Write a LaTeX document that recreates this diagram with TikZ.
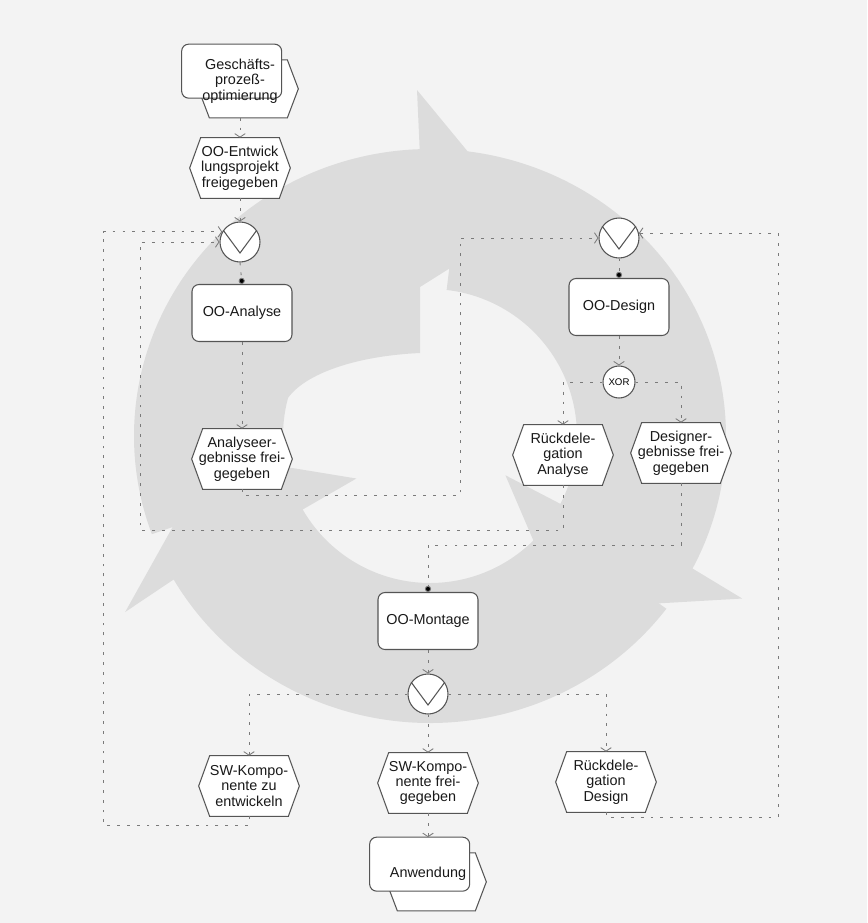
\documentclass[tikz,border=0pt]{standalone}
\usepackage{fontspec}
\setmainfont{Liberation Sans}
\usetikzlibrary{arrows.meta,calc}
\pgfdeclarelayer{paper}
\pgfdeclarelayer{ring}
\pgfdeclarelayer{shapes}
\pgfsetlayers{paper,ring,shapes,main}

\definecolor{paper}{HTML}{F3F3F3}
\definecolor{ringgray}{HTML}{DCDCDC}
\definecolor{edge}{HTML}{555555}
\definecolor{flow}{HTML}{7A7A7A}

\tikzset{
  lbl/.style={font=\fontsize{8.2}{8.7}\selectfont, align=center, inner sep=0pt, text=black!90},
  func/.style={lbl, draw=edge, line width=0.6pt, fill=white, rounded corners=4pt,
    minimum width=2cm, minimum height=1.14cm},
  evt/.style={lbl, minimum width=2cm, minimum height=1.2cm},
  pif/.style={lbl, minimum width=2.32cm, minimum height=1.46cm},
  orc/.style={circle, draw=edge, line width=0.6pt, fill=white, minimum size=0.8cm, inner sep=0pt},
  xorc/.style={circle, draw=edge, line width=0.6pt, fill=white, minimum size=0.64cm,
    inner sep=0pt, font=\fontsize{5.5}{6}\selectfont},
  outline/.style={draw=edge, line width=0.6pt, fill=white},
  conn/.style={draw=flow, line width=0.5pt, dash pattern=on 1.6pt off 4pt,
    -{Straight Barb[length=2pt,width=6pt,line width=0.5pt]}},
  dotin/.style={conn, -{Circle[length=3.5pt,fill=black]}},
  ringfill/.style={fill=ringgray}
}

\begin{document}
\begin{tikzpicture}[x=0.02cm,y=-0.02cm]
\useasboundingbox (0,0) rectangle (867,923);
\begin{pgfonlayer}{paper}
  \fill[paper] (0,0) rectangle (867,923);
\end{pgfonlayer}

% three curved arrows forming the cycle (local frame: y points up)
\begin{pgfonlayer}{ring}
\begin{scope}[shift={(430,436)}, yscale=-1]
  % left arrow, head at the top
  \fill[ringfill] (200:296 and 287)
    arc[start angle=200, end angle=92, x radius=296, y radius=287]
    -- (-13,346) -- (95,215) -- (-10,149) -- (-10,83)
    .. controls (-75,80) and (-125,62) .. (165:147)
    arc[start angle=165, end angle=200, radius=147] -- cycle;
  % right arrow, head at the lower right
  \fill[ringfill] (83.5:296 and 287)
    arc[start angle=83.5, end angle=-27.5, x radius=296, y radius=287]
    -- (-27.5:352) -- (-52.5:218) -- (-27.5:85) -- (-27.5:147)
    arc[start angle=-27.5, end angle=83.5, radius=147] -- cycle;
  % bottom arrow, head at the lower left
  \fill[ringfill] (-37:296 and 287)
    arc[start angle=-37, end angle=-150, x radius=296, y radius=287]
    -- (-150:352) -- (-175:218) -- (-150:85) -- (-150:147)
    arc[start angle=-150, end angle=-37, radius=147] -- cycle;
\end{scope}
\end{pgfonlayer}

% process interfaces
\node[pif] (gpo) at (240,81) {Geschäfts-\\prozeß-\\optimierung};
\node[pif] (anw) at (428,874) {Anwendung};

% events
\node[evt] (e1)   at (240,168) {OO-Entwick\\lungsprojekt\\freigegeben};
\node[evt] (eA)   at (242,459) {Analyseer-\\gebnisse frei-\\gegeben};
\node[evt] (eRA)  at (563,455) {Rückdele-\\gation\\Analyse};
\node[evt] (eDE)  at (681,453) {Designer-\\gebnisse frei-\\gegeben};
\node[evt] (eSW1) at (249,786) {SW-Kompo-\\nente zu\\entwickeln};
\node[evt] (eSW2) at (428,783) {SW-Kompo-\\nente frei-\\gegeben};
\node[evt] (eRD)  at (606,782) {Rückdele-\\gation\\Design};

% functions
\node[func] (fA) at (242,313) {OO-Analyse};
\node[func] (fD) at (619,307) {OO-Design};
\node[func] (fM) at (428,621) {OO-Montage};

% rule connectors
\node[orc] (or1) at (240,242) {};
\node[orc] (or2) at (619,238) {};
\node[orc] (or3) at (428,694) {};
\node[xorc] (xor) at (619,382) {XOR};
\foreach \n in {or1,or2,or3}{
  \draw[edge, line width=0.6pt] (\n.145) -- ($(\n.center)+(0,11)$) -- (\n.35);
}

% outlines of events and process interfaces
\begin{pgfonlayer}{shapes}
  \foreach \n in {e1,eA,eRA,eDE,eSW1,eSW2,eRD}{
    \draw[outline] (\n.west) -- ($(\n.north west)+(11,0)$) -- ($(\n.north east)+(-11,0)$)
      -- (\n.east) -- ($(\n.south east)+(-11,0)$) -- ($(\n.south west)+(11,0)$) -- cycle;
  }
  \foreach \n in {gpo,anw}{
    \draw[outline] ($(\n.south east)+(-100,-29)$) -- ($(\n.south east)+(-89,-58)$)
      -- ($(\n.south east)+(-11,-58)$) -- ($(\n.south east)+(0,-29)$)
      -- ($(\n.south east)+(-11,0)$) -- ($(\n.south east)+(-89,0)$) -- cycle;
    \draw[outline, rounded corners=4pt] (\n.north west) rectangle ($(\n.north west)+(100,54)$);
  }
\end{pgfonlayer}

% routing corners
\coordinate (bl)   at (103,825);
\coordinate (c530) at (140,530);
\coordinate (c495) at (460,495);
\coordinate (c817) at (778,817);
\coordinate (c545) at (428,545);

% control flow
\draw[conn]  (gpo.south) -- (e1.north);
\draw[conn]  (e1.south) -- (or1.north);
\draw[dotin] (or1.south) -- (fA.north);
\draw[conn]  (fA.south) -- (eA.north);
\draw[conn]  (eA.south) |- (c495) |- (or2.west);
\draw[dotin] (or2.south) -- (fD.north);
\draw[conn]  (fD.south) -- (xor.north);
\draw[conn]  (xor.west) -| (eRA.north);
\draw[conn]  (xor.east) -| (eDE.north);
\draw[conn]  (eRA.south) |- (c530) |- (or1.west);
\draw[dotin] (eDE.south) |- (c545) -- (fM.north);
\draw[conn]  (fM.south) -- (or3.north);
\draw[conn]  (or3.west) -| (eSW1.north);
\draw[conn]  (or3.south) -- (eSW2.north);
\draw[conn]  (or3.east) -| (eRD.north);
\draw[conn]  (eSW1.south) |- (bl) |- (or1.150);
\draw[conn]  (eRD.south) |- (c817) |- (or2.14);
\draw[conn]  (eSW2.south) -- (anw.north);
\end{tikzpicture}
\end{document}
